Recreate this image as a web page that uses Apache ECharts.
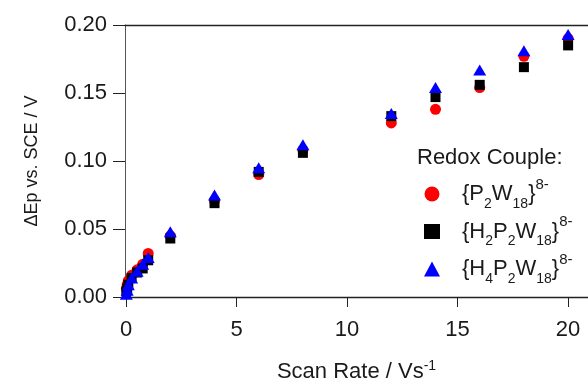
<!DOCTYPE html>
<html>
<head>
<meta charset="utf-8">
<script src="https://cdn.jsdelivr.net/npm/echarts@6/dist/echarts.min.js"></script>
<style>
  html, body { margin: 0; padding: 0; background: #fff; }
  #chart { width: 588px; height: 383px; }
</style>
</head>
<body>
<div id="chart"></div>
<script>
// scan rates (V/s)
const scanRates = [0.01, 0.05, 0.1, 0.25, 0.5, 0.75, 1, 2, 4, 6, 8, 12, 14, 16, 18, 20];

// peak separation (V) for each redox couple
const p2w18 = [0.006, 0.009, 0.012, 0.016, 0.020, 0.024, 0.032, 0.045, 0.071, 0.090, 0.108, 0.128, 0.138, 0.154, 0.177, 0.190];
const h2p2w18 = [0.004, 0.006, 0.009, 0.014, 0.018, 0.021, 0.027, 0.043, 0.069, 0.092, 0.106, 0.133, 0.147, 0.156, 0.169, 0.185];
const h4p2w18 = [0.002, 0.005, 0.009, 0.014, 0.019, 0.024, 0.029, 0.048, 0.075, 0.095, 0.112, 0.135, 0.154, 0.167, 0.181, 0.193];

const xTicks = [0, 5, 10, 15, 20];

const FONT = 'Liberation Sans';
const AXIS_COLOR = '#222';
const TEXT_COLOR = '#1a1a1a';

const chart = echarts.init(document.getElementById('chart'), null, { renderer: 'canvas' });

const pairs = (ys) => scanRates.map((x, i) => [x, ys[i]]);

// rich text: "{" inside a token is fine, "}" has to sit outside the tokens
const legendNames = {
  p2w18: '{pad|{P}{sub|2}{b|W}{sub|18}}{sup|8-}',
  h2p2w18: '{pad|{H}{sub|2}{b|P}{sub|2}{b|W}{sub|18}}{sup|8-}',
  h4p2w18: '{pad|{H}{sub|4}{b|P}{sub|2}{b|W}{sub|18}}{sup|8-}',
};

const option = {
  backgroundColor: '#fff',
  animation: false,
  textStyle: { fontFamily: FONT },
  title: {
    text: 'Redox Couple:',
    left: 417,
    top: 147,
    padding: 0,
    textStyle: { fontFamily: FONT, fontSize: 22, fontWeight: 'normal', color: TEXT_COLOR },
  },
  legend: {
    orient: 'vertical',
    left: 424,
    top: 177,
    padding: 0,
    itemWidth: 16,
    itemHeight: 15,
    itemGap: 3.5,
    data: [
      { name: 'p2w18', icon: 'circle' },
      { name: 'h2p2w18', icon: 'rect' },
      { name: 'h4p2w18', icon: 'triangle' },
    ],
    formatter: (name) => legendNames[name],
    textStyle: {
      fontFamily: FONT,
      fontSize: 22,
      lineHeight: 34,
      color: TEXT_COLOR,
      rich: {
        pad: { fontSize: 22, lineHeight: 34, padding: [0, 0, 0, 17], color: TEXT_COLOR },
        b: { fontSize: 22, lineHeight: 34, color: TEXT_COLOR },
        sub: { fontSize: 14, lineHeight: 18, verticalAlign: 'bottom', color: TEXT_COLOR },
        sup: { fontSize: 15, lineHeight: 10, verticalAlign: 'top', color: TEXT_COLOR },
      },
    },
  },
  grid: { left: 125, right: 0, top: 25, bottom: 86, outerBoundsMode: 'none' },
  xAxis: [
    {
      type: 'value',
      min: -0.05,
      max: 20.9,
      name: 'Scan Rate / Vs{sup|-1}',
      nameLocation: 'middle',
      nameGap: 62,
      nameTextStyle: {
        fontFamily: FONT, fontSize: 22, color: TEXT_COLOR, lineHeight: 26,
        rich: { sup: { fontSize: 14, lineHeight: 10, verticalAlign: 'top', color: TEXT_COLOR } },
      },
      axisLine: { show: true, onZero: false, lineStyle: { color: AXIS_COLOR, width: 1.3 } },
      axisTick: { show: true, customValues: xTicks, length: 10, lineStyle: { color: AXIS_COLOR } },
      axisLabel: { customValues: xTicks, margin: 22, fontSize: 22, color: TEXT_COLOR, fontFamily: FONT },
      splitLine: { show: false },
    },
    {
      type: 'value',
      position: 'top',
      min: -0.05,
      max: 20.9,
      axisLine: { show: true, onZero: false, lineStyle: { color: AXIS_COLOR, width: 1.3 } },
      axisTick: { show: false },
      axisLabel: { show: false },
      splitLine: { show: false },
    },
  ],
  yAxis: {
    type: 'value',
    min: 0,
    max: 0.2,
    interval: 0.05,
    name: 'ΔEp vs. SCE / V',
    nameLocation: 'middle',
    nameGap: 84,
    nameTextStyle: { fontFamily: FONT, fontSize: 18, color: TEXT_COLOR },
    axisLine: { show: true, onZero: false, lineStyle: { color: '#555', width: 1 } },
    axisTick: { show: true, length: 12, lineStyle: { color: AXIS_COLOR } },
    axisLabel: {
      margin: 18, fontSize: 22, color: TEXT_COLOR, fontFamily: FONT,
      formatter: (v) => v.toFixed(2),
    },
    splitLine: { show: false },
  },
  series: [
    {
      name: 'p2w18',
      type: 'scatter',
      symbol: 'circle',
      symbolSize: 11,
      itemStyle: { color: '#ff0000', opacity: 1 },
      data: pairs(p2w18),
      z: 2,
    },
    {
      name: 'h2p2w18',
      type: 'scatter',
      symbol: 'rect',
      symbolSize: 10,
      itemStyle: { color: '#000000', opacity: 1 },
      data: pairs(h2p2w18),
      z: 3,
    },
    {
      name: 'h4p2w18',
      type: 'scatter',
      symbol: 'triangle',
      symbolSize: [13, 11],
      itemStyle: { color: '#0000ff', opacity: 1 },
      data: pairs(h4p2w18),
      z: 4,
    },
  ],
};

chart.setOption(option);
</script>
</body>
</html>
